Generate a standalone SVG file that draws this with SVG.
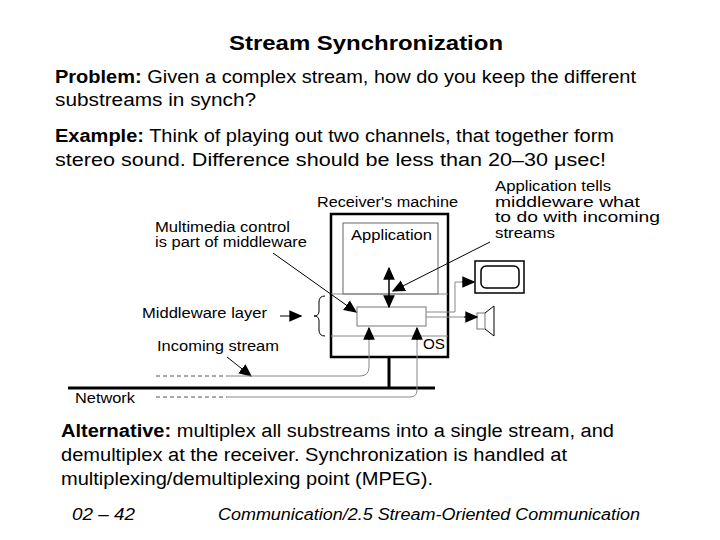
<svg xmlns="http://www.w3.org/2000/svg" width="720" height="540" viewBox="0 0 720 540">
<style>
text{font-family:"Liberation Sans",Arial,sans-serif;fill:#000}
.t{font-size:18px}
.d{font-size:14px}
.k{stroke:#000;fill:none}
.g{stroke:#888;fill:none}
</style>
<defs>
<marker id="b" viewBox="0 0 10 10" refX="9" refY="5" markerWidth="13" markerHeight="13" orient="auto-start-reverse" markerUnits="userSpaceOnUse"><path d="M0,0.5L10,5L0,9.5z" fill="#000"/></marker>
</defs>
<rect width="720" height="540" fill="#fff"/>
<text x="229" y="50" font-size="20" font-weight="bold" textLength="274" lengthAdjust="spacingAndGlyphs">Stream Synchronization</text>
<text class="t" x="55" y="83" textLength="581" lengthAdjust="spacingAndGlyphs"><tspan font-weight="bold">Problem:</tspan> Given a complex stream, how do you keep the different</text>
<text class="t" x="55" y="106" textLength="201" lengthAdjust="spacingAndGlyphs">substreams in synch?</text>
<text class="t" x="55" y="142" textLength="559" lengthAdjust="spacingAndGlyphs"><tspan font-weight="bold">Example:</tspan> Think of playing out two channels, that together form</text>
<text class="t" x="55" y="166" textLength="551" lengthAdjust="spacingAndGlyphs">stereo sound. Difference should be less than 20–30 μsec!</text>
<text class="t" x="61" y="437" textLength="553" lengthAdjust="spacingAndGlyphs"><tspan font-weight="bold">Alternative:</tspan> multiplex all substreams into a single stream, and</text>
<text class="t" x="61" y="461" textLength="506" lengthAdjust="spacingAndGlyphs">demultiplex at the receiver. Synchronization is handled at</text>
<text class="t" x="61" y="485" textLength="372" lengthAdjust="spacingAndGlyphs">multiplexing/demultiplexing point (MPEG).</text>
<text x="72" y="520" font-size="16" font-style="italic" textLength="63" lengthAdjust="spacingAndGlyphs">02 – 42</text>
<text x="218" y="520" font-size="16" font-style="italic" textLength="422" lengthAdjust="spacingAndGlyphs">Communication/2.5 Stream-Oriented Communication</text>

<g id="machine">
<rect class="k" x="331" y="214" width="117" height="143" stroke-width="2.5"/>
<text class="d" x="317" y="207" textLength="141" lengthAdjust="spacingAndGlyphs">Receiver's machine</text>
</g>
<g id="application">
<rect x="343" y="223" width="95" height="71" fill="none" stroke="#666"/>
<line class="g" x1="331" y1="294" x2="448" y2="294"/>
<text class="d" x="351" y="240" textLength="81" lengthAdjust="spacingAndGlyphs">Application</text>
</g>
<g id="middleware">
<rect x="357" y="307" width="69" height="19" fill="#fff" stroke="#777"/>
<line class="g" x1="331" y1="336" x2="448" y2="336"/>
<text class="d" x="423" y="349" textLength="22" lengthAdjust="spacingAndGlyphs">OS</text>
</g>
<g id="network">
<line class="k" x1="68" y1="388" x2="435" y2="388" stroke-width="3"/>
<text class="d" x="75" y="403" textLength="60" lengthAdjust="spacingAndGlyphs">Network</text>
</g>
<g id="monitor">
<rect class="k" x="475" y="261" width="49" height="32" stroke-width="1.5"/>
<rect class="k" x="481" y="266" width="38" height="22" rx="5" stroke-width="1.5"/>
</g>
<g id="speaker">
<rect x="477" y="313" width="8" height="16" fill="none" stroke="#777"/>
<path class="k" d="M485,313L494,306L494,336L485,329"/>
</g>
<g id="labels">
<text class="d" x="155" y="232" textLength="135" lengthAdjust="spacingAndGlyphs">Multimedia control</text>
<text class="d" x="155" y="247" textLength="152" lengthAdjust="spacingAndGlyphs">is part of middleware</text>
<text class="d" x="495" y="191" textLength="116" lengthAdjust="spacingAndGlyphs">Application tells</text>
<text class="d" x="495" y="207" textLength="145" lengthAdjust="spacingAndGlyphs">middleware what</text>
<text class="d" x="495" y="222" textLength="165" lengthAdjust="spacingAndGlyphs">to do with incoming</text>
<text class="d" x="495" y="238" textLength="60" lengthAdjust="spacingAndGlyphs">streams</text>
<text class="d" x="142" y="318" textLength="125" lengthAdjust="spacingAndGlyphs">Middleware layer</text>
<text class="d" x="157" y="351" textLength="122" lengthAdjust="spacingAndGlyphs">Incoming stream</text>
</g>
<g id="connectors">
<line class="k" x1="389" y1="357" x2="389" y2="388" stroke-width="3"/>
<line class="k" x1="389" y1="268" x2="389" y2="307" stroke-width="1.5" marker-start="url(#b)" marker-end="url(#b)"/>
<line class="k" x1="273" y1="253" x2="356" y2="312" marker-end="url(#b)"/>
<line class="k" x1="490" y1="242" x2="393" y2="291" marker-end="url(#b)"/>
<line class="k" x1="280" y1="316" x2="301" y2="316" marker-end="url(#b)"/>
<path class="k" d="M325,296q-6,0-6,6v9q0,5-5,5q5,0,5,5v9q0,6,6,6" stroke="#333"/>
<line class="k" x1="227" y1="357" x2="251" y2="376" marker-end="url(#b)"/>
<line x1="156" y1="376" x2="227" y2="376" stroke="#555" stroke-dasharray="4,3"/>
<path class="g" d="M227,376H360q9,0,9-9V330" stroke="#777"/>
<line x1="369" y1="340" x2="369" y2="328" stroke="#000" marker-end="url(#b)"/>
<line x1="156" y1="397" x2="227" y2="397" stroke="#555" stroke-dasharray="4,3"/>
<path class="g" d="M227,397H410q7,0,7-7V330" stroke="#777"/>
<line x1="417" y1="340" x2="417" y2="328" stroke="#000" marker-end="url(#b)"/>
<path class="g" d="M426,312H455V282H470" stroke="#777"/>
<line x1="462" y1="282" x2="474" y2="282" stroke="#000" marker-end="url(#b)"/>
<path class="g" d="M426,317H470" stroke="#777"/>
<line x1="464" y1="317" x2="477" y2="317" stroke="#000" marker-end="url(#b)"/>
</g>
</svg>
